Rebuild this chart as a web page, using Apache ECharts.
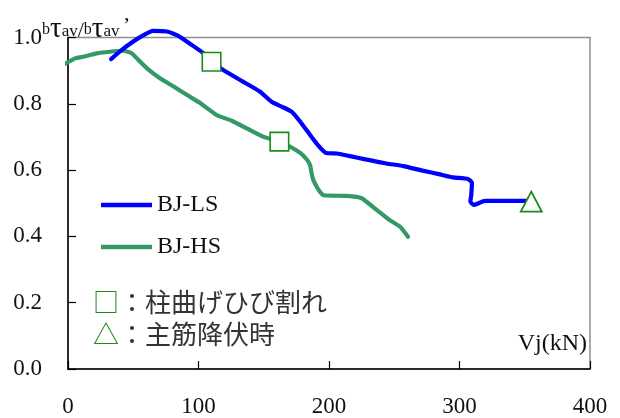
<!DOCTYPE html>
<html>
<head>
<meta charset="utf-8">
<script src="https://cdn.jsdelivr.net/npm/echarts@6/dist/echarts.min.js"></script>
<style>
  html, body { margin: 0; padding: 0; background: #fff; }
  #chart { width: 620px; height: 418px; }
</style>
</head>
<body>
<div id="chart"></div>
<script>
// BJ-LS: joint shear Vj (kN) vs. bond stress ratio
const lsVj = [33, 41, 54, 65, 76, 84.5, 95, 104, 110, 119, 134, 147, 156, 164, 171.5, 178, 185.5, 192, 197.5, 206, 215, 221, 231, 244, 257, 270, 285, 295, 306.5, 309.5, 309, 308.3, 311, 319.5, 335, 355];
const lsRatio = [0.935, 0.962, 0.998, 1.020, 1.018, 1.005, 0.977, 0.952, 0.927, 0.902, 0.867, 0.837, 0.806, 0.791, 0.776, 0.746, 0.706, 0.673, 0.652, 0.650, 0.643, 0.638, 0.630, 0.620, 0.612, 0.600, 0.587, 0.578, 0.573, 0.562, 0.525, 0.505, 0.495, 0.507, 0.507, 0.507];

// BJ-HS
const hsVj = [-2.5, 5.5, 11.5, 22, 32, 42.5, 49, 54, 60.5, 70.5, 81, 91, 101, 114, 125.5, 137, 149.5, 162, 170, 178, 183, 185.5, 186.7, 188, 190.6, 193, 196, 213.5, 225, 236.5, 246.5, 254.5, 260.5];
const hsRatio = [0.920, 0.937, 0.942, 0.952, 0.957, 0.960, 0.952, 0.932, 0.907, 0.877, 0.852, 0.827, 0.803, 0.766, 0.749, 0.726, 0.701, 0.686, 0.671, 0.652, 0.632, 0.615, 0.590, 0.570, 0.550, 0.535, 0.524, 0.522, 0.515, 0.480, 0.449, 0.429, 0.399];

// Events: column flexural cracking (squares), main bar yielding (triangle)
const crackVj = [110, 162];
const crackRatio = [0.927, 0.686];
const yieldVj = [355];
const yieldRatio = [0.505];

// Axis ticks
const xTicks = [0, 100, 200, 300, 400];
const yTicks = [0.0, 0.2, 0.4, 0.6, 0.8, 1.0];

const seriesNames = ['BJ-LS', 'BJ-HS'];

const zip = (xs, ys) => xs.map((x, i) => [x, ys[i]]);

const SERIF = '"Liberation Serif", "Times New Roman", serif';
const CJK = '"Noto Sans CJK JP", "Noto Sans", sans-serif';
const EVENT_GREEN = '#1a8c1a';

const chart = echarts.init(document.getElementById('chart'), null, { renderer: 'canvas' });

chart.setOption({
  animation: false,
  backgroundColor: '#ffffff',
  grid: {
    left: 68, right: 30, top: 37.5, bottom: 49,
    show: true, borderColor: '#8f8f8f', borderWidth: 1.5, backgroundColor: 'transparent'
  },
  xAxis: {
    type: 'value',
    min: xTicks[0], max: xTicks[xTicks.length - 1], interval: 100,
    axisLine: { show: true, onZero: false, lineStyle: { color: '#000', width: 1.5 } },
    axisTick: { show: true, inside: true, length: 8, lineStyle: { color: '#000', width: 1.2 } },
    splitLine: { show: false },
    axisLabel: { margin: 26, color: '#111', fontFamily: SERIF, fontSize: 23,
      formatter: v => xTicks.includes(v) ? String(v) : '' }
  },
  yAxis: {
    type: 'value',
    min: yTicks[0], max: yTicks[yTicks.length - 1], interval: 0.2,
    axisLine: { show: true, onZero: false, lineStyle: { color: '#000', width: 1.5 } },
    axisTick: { show: true, inside: true, length: 8, lineStyle: { color: '#000', width: 1.2 } },
    splitLine: { show: false },
    axisLabel: { margin: 26, color: '#111', fontFamily: SERIF, fontSize: 23,
      formatter: v => v.toFixed(1) }
  },
  legend: {
    data: seriesNames,
    orient: 'vertical',
    left: 101, top: 193,
    padding: 0,
    icon: 'rect',
    itemWidth: 51, itemHeight: 4.5,
    itemGap: 18,
    textStyle: { fontFamily: SERIF, fontSize: 24, color: '#111', lineHeight: 24, padding: [0, 0, 0, 0] }
  },
  series: [
    {
      name: seriesNames[0], type: 'line', data: zip(lsVj, lsRatio),
      showSymbol: false, clip: false, smooth: 0.15,
      lineStyle: { color: '#0000ff', width: 4.2, cap: 'round', join: 'round' },
      itemStyle: { color: '#0000ff' }, z: 3
    },
    {
      name: seriesNames[1], type: 'line', data: zip(hsVj, hsRatio),
      showSymbol: false, clip: false, smooth: 0.15,
      lineStyle: { color: '#339966', width: 4.2, cap: 'round', join: 'round' },
      itemStyle: { color: '#339966' }, z: 2
    },
    {
      name: 'crack', type: 'scatter', data: zip(crackVj, crackRatio),
      symbol: 'rect', symbolSize: 18.5, clip: false,
      itemStyle: { color: '#ffffff', borderColor: EVENT_GREEN, borderWidth: 1.6, opacity: 1 }, z: 5
    },
    {
      name: 'yield', type: 'scatter', data: zip(yieldVj, yieldRatio),
      symbol: 'triangle', symbolSize: [21, 20], clip: false,
      itemStyle: { color: '#ffffff', borderColor: EVENT_GREEN, borderWidth: 1.8, opacity: 1 }, z: 5
    }
  ],
  graphic: [
    {
      type: 'text', left: 42, top: 15, z: 10,
      style: {
        text: '{b|b}{t|τ}{s|av}{d|/}{b|b}{t|τ}{s|av}',
        fill: '#111',
        rich: {
          b: { fontFamily: SERIF, fontSize: 16, lineHeight: 25, verticalAlign: 'bottom', padding: [0, 0, 6, 0] },
          t: { fontFamily: SERIF, fontSize: 29, lineHeight: 25, verticalAlign: 'bottom' },
          s: { fontFamily: SERIF, fontSize: 17, lineHeight: 25, verticalAlign: 'bottom', padding: [0, 0, 4, 0] },
          d: { fontFamily: SERIF, fontSize: 22, lineHeight: 25, verticalAlign: 'bottom', padding: [0, 0, 2, 0] }
        }
      }
    },
    {
      type: 'text', left: 123, top: 15, z: 10,
      style: { text: '’', fill: '#111', font: '22px ' + SERIF }
    },
    {
      type: 'text', right: 33, top: 332, z: 10,
      style: { text: 'Vj(kN)', fill: '#111', font: '24px ' + SERIF }
    },
    {
      type: 'text', left: 93, top: 289, z: 10,
      style: {
        text: '{g|□}：柱曲げひび割れ',
        fill: '#333', font: '26px ' + CJK,
        rich: { g: { fill: EVENT_GREEN, font: '26px ' + CJK } }
      }
    },
    {
      type: 'text', left: 93, top: 321, z: 10,
      style: {
        text: '{g|△}：主筋降伏時',
        fill: '#333', font: '26px ' + CJK,
        rich: { g: { fill: EVENT_GREEN, font: '26px ' + CJK } }
      }
    }
  ]
});
</script>
</body>
</html>
